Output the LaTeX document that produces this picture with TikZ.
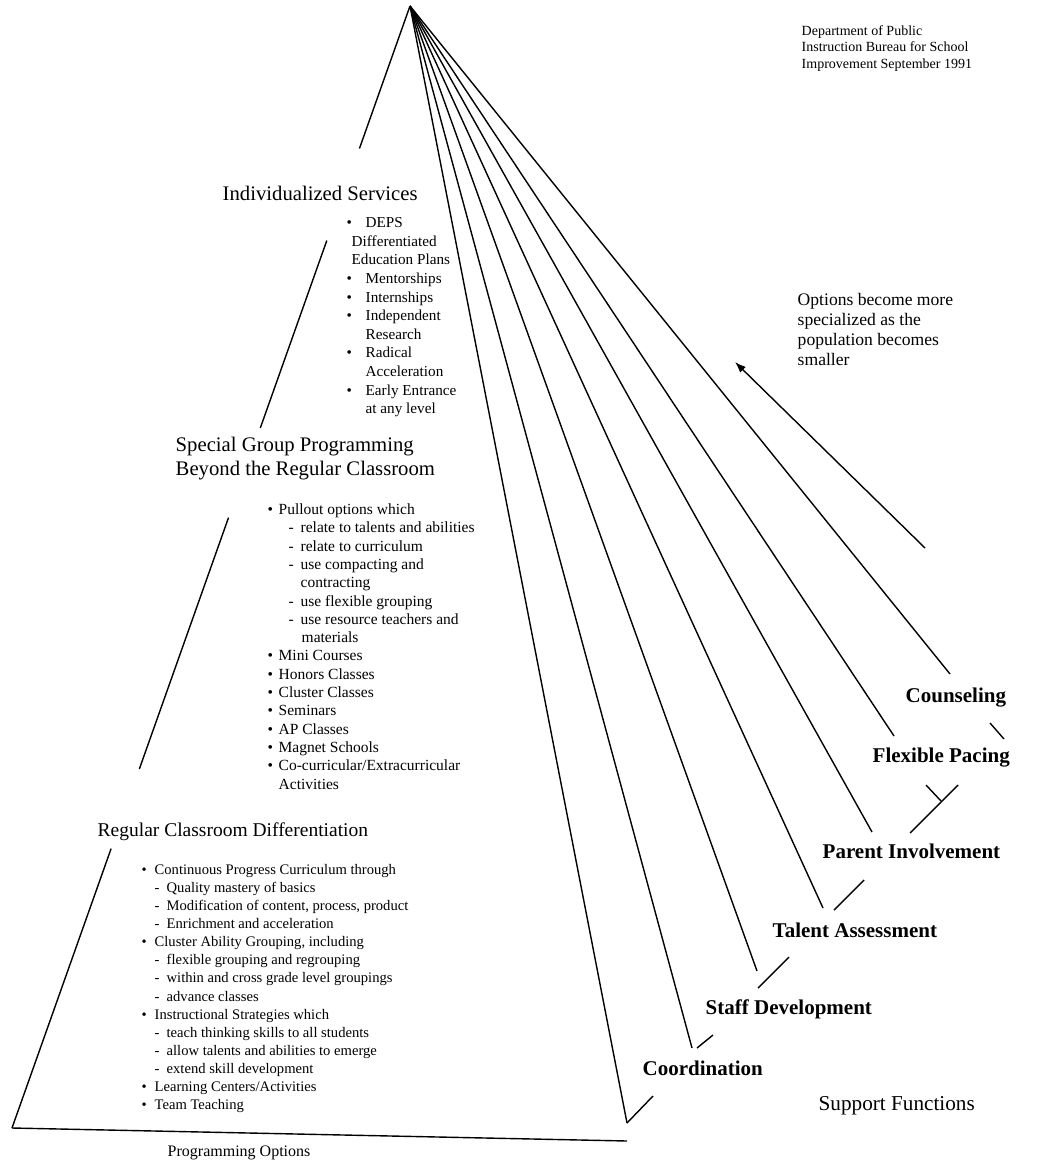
\documentclass[tikz,border=0pt]{standalone}
\usepackage{fontspec}
\setmainfont{Liberation Serif}
\usetikzlibrary{arrows.meta}
\usetikzlibrary{calc}

\newcommand{\itm}[1][12pt]{\makebox[#1][l]{\textbullet}}
\newcommand{\dsh}[1][12pt]{\hspace*{#1}\makebox[12pt][l]{-}}

\begin{document}
\begin{tikzpicture}[x=1pt, y=-1pt, line width=1.4pt,
  tierlabel/.style={anchor=base west, inner sep=0pt, font=\fontsize{20.7}{24}\selectfont},
  supportlabel/.style={anchor=base west, inner sep=0pt, font=\fontsize{21}{25}\selectfont\bfseries},
  bullets/.style={anchor=north west, inner sep=0pt, align=left}]
\useasboundingbox (0,0) rectangle (1050,1164);

% pyramid
\coordinate (apex) at (410,6);
\coordinate (base) at (12,1128);
\coordinate (baseend) at (627,1141);

\draw (apex) -- ($(apex)!0.127!(base)$);
\draw ($(apex)!0.209!(base)$) -- ($(apex)!0.376!(base)$);
\draw ($(apex)!0.456!(base)$) -- ($(apex)!0.680!(base)$);
\draw ($(apex)!0.751!(base)$) -- (base);
\draw (base) -- (baseend);

% support function rays
\coordinate (e1) at (627,1123);
\coordinate (e2) at (692,1048);
\coordinate (e3) at (757,971);
\coordinate (e4) at (823,908);
\coordinate (e5) at (872,832);
\coordinate (e6) at (894,736);
\coordinate (e7) at (950,674);

\draw (apex) -- (e1);
\draw (apex) -- (e2);
\draw (apex) -- (e3);
\draw (apex) -- (e4);
\draw (apex) -- (e5);
\draw (apex) -- (e6);
\draw (apex) -- (e7);

% ticks
\draw (e1) -- (653,1096);
\draw (697,1048) -- (713,1035);
\draw (758,988) -- (789,957);
\draw (834,910) -- (864,880);
\draw (910,833) -- (958,785);
\draw (926,785) -- (941,801);
\draw (990,723) -- (1004,739);

% levels
\node[tierlabel] (indiv) at (222,200) {Individualized Services};
\node[tierlabel, anchor=north west, align=left] (special) at (175,434)
  {\strut Special Group Programming\\Beyond the Regular Classroom};
\node[tierlabel, font=\fontsize{19.5}{24}\selectfont] (regular) at (97,836)
  {Regular Classroom Differentiation};
\node[anchor=base west, inner sep=0pt, font=\fontsize{16}{19}\selectfont] (progopt)
  at (167,1156) {Programming Options};
\node[tierlabel, font=\fontsize{21.2}{24}\selectfont] (suppfn) at (818,1110)
  {Support Functions};

\node[bullets, font=\fontsize{15.2}{18.6}\selectfont] (indivlist) at (346,214)
  {\strut\itm[19pt]DEPS\\
   \hspace*{5pt}Differentiated\\
   \hspace*{5pt}Education Plans\\
   \itm[19pt]Mentorships\\
   \itm[19pt]Internships\\
   \itm[19pt]Independent\\
   \hspace*{19pt}Research\\
   \itm[19pt]Radical\\
   \hspace*{19pt}Acceleration\\
   \itm[19pt]Early Entrance\\
   \hspace*{19pt}at any level};

\node[bullets, font=\fontsize{15.5}{18.3}\selectfont] (speciallist) at (267,501)
  {\strut\itm[11pt]Pullout options which\\
   \dsh[21pt]relate to talents and abilities\\
   \dsh[21pt]relate to curriculum\\
   \dsh[21pt]use compacting and\\
   \hspace*{33pt}contracting\\
   \dsh[21pt]use flexible grouping\\
   \dsh[21pt]use resource teachers and\\
   \hspace*{34pt}materials\\
   \itm[11pt]Mini Courses\\
   \itm[11pt]Honors Classes\\
   \itm[11pt]Cluster Classes\\
   \itm[11pt]Seminars\\
   \itm[11pt]AP Classes\\
   \itm[11pt]Magnet Schools\\
   \itm[11pt]Co-curricular/Extracurricular\\
   \hspace*{11pt}Activities};

\node[bullets, font=\fontsize{14.6}{18.1}\selectfont] (regularlist) at (141,861)
  {\strut\itm[13pt]Continuous Progress Curriculum through\\
   \dsh[13pt]Quality mastery of basics\\
   \dsh[13pt]Modification of content, process, product\\
   \dsh[13pt]Enrichment and acceleration\\
   \itm[13pt]Cluster Ability Grouping, including\\
   \dsh[13pt]flexible grouping and regrouping\\
   \dsh[13pt]within and cross grade level groupings\\
   \dsh[13pt]advance classes\\
   \itm[13pt]Instructional Strategies which\\
   \dsh[13pt]teach thinking skills to all students\\
   \dsh[13pt]allow talents and abilities to emerge\\
   \dsh[13pt]extend skill development\\
   \itm[13pt]Learning Centers/Activities\\
   \itm[13pt]Team Teaching};

% support functions
\node[supportlabel] (coord) at (642,1075) {Coordination};
\node[supportlabel] (staff) at (705,1014) {Staff Development};
\node[supportlabel] (talent) at (772,937) {Talent Assessment};
\node[supportlabel] (parent) at (822,858) {Parent Involvement};
\node[supportlabel] (pacing) at (872,762) {Flexible Pacing};
\node[supportlabel] (counsel) at (905,702) {Counseling};

% notes
\node[bullets, font=\fontsize{14}{16.5}\selectfont] (dept) at (801,23)
  {\strut Department of Public\\Instruction Bureau for School\\Improvement September 1991};
\node[bullets, font=\fontsize{17.6}{20}\selectfont] (note) at (797,291)
  {\strut Options become more\\specialized as the\\population becomes\\smaller};

\coordinate (arrtail) at (925,548);
\coordinate (arrtip) at (735,362);
\draw[-{Latex[length=11pt,width=8pt]}] (arrtail) -- (arrtip);
\end{tikzpicture}
\end{document}
